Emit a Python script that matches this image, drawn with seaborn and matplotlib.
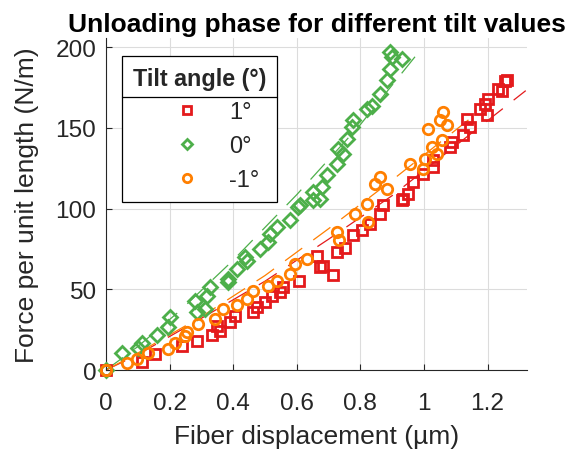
import numpy as np
import pandas as pd
import seaborn as sns
import matplotlib.pyplot as plt
from matplotlib.lines import Line2D

# measured points, unloading phase
x_pos1 = [0, 0.112, 0.154, 0.238, 0.285, 0.332, 0.348, 0.358, 0.390, 0.406, 0.463, 0.474,
          0.500, 0.521, 0.547, 0.558, 0.608, 0.663, 0.673, 0.681, 0.713, 0.725, 0.752, 0.776,
          0.804, 0.830, 0.862, 0.870, 0.930, 0.935, 0.951, 0.966, 0.998, 1.029, 1.029, 1.082,
          1.087, 1.124, 1.134, 1.145, 1.176, 1.197, 1.192, 1.202, 1.234, 1.244, 1.255, 1.260]
y_pos1 = [0, 5.1, 9.9, 15.1, 18.2, 21.7, 27.5, 24.4, 29.9, 33.3, 35.8, 38.9,
          42.0, 45.7, 48.2, 51.3, 55.4, 70.5, 63.7, 64.7, 58.9, 73.0, 75.4, 83.7,
          86.4, 90.5, 96.7, 102.3, 105.0, 106.0, 109.1, 116.4, 121.5, 125.7, 129.8, 138.1,
          141.2, 145.3, 155.6, 150.5, 161.8, 157.7, 164.9, 167.6, 174.2, 172.5, 178.7, 179.4]

x_zero = [0, 0.049, 0.102, 0.112, 0.159, 0.196, 0.201, 0.280, 0.285, 0.311, 0.317, 0.327,
          0.385, 0.385, 0.411, 0.442, 0.437, 0.484, 0.510, 0.516, 0.537, 0.579, 0.605, 0.610,
          0.652, 0.652, 0.673, 0.678, 0.694, 0.725, 0.731, 0.746, 0.757, 0.773, 0.778, 0.820,
          0.836, 0.862, 0.883, 0.893, 0.898, 0.893, 0.930]
y_zero = [0, 10.5, 13.4, 16.7, 21.7, 26.5, 32.7, 43.0, 35.8, 37.8, 46.1, 51.3,
          56.4, 54.4, 62.6, 67.8, 69.9, 75.0, 79.2, 84.3, 88.5, 92.6, 100.9, 101.9,
          105.0, 110.2, 106.0, 113.3, 120.5, 127.7, 137.0, 133.9, 143.2, 150.4, 154.6, 161.8,
          163.8, 171.1, 179.4, 186.6, 193.9, 196.9, 192.8]

x_neg1 = [0, 0.065, 0.097, 0.133, 0.196, 0.217, 0.248, 0.254, 0.290, 0.343, 0.369, 0.411,
          0.442, 0.463, 0.510, 0.537, 0.579, 0.594, 0.631, 0.725, 0.734, 0.783, 0.820, 0.825,
          0.846, 0.862, 0.883, 0.956, 1.003, 0.998, 1.024, 1.040, 1.014, 1.056, 1.050, 1.061,
          1.071]
y_neg1 = [0, 4.3, 6.8, 10.5, 13.0, 16.7, 21.3, 23.4, 28.5, 31.6, 37.8, 40.3,
          44.0, 49.2, 51.9, 55.4, 59.5, 65.7, 68.8, 85.7, 80.8, 96.7, 102.9, 91.5,
          115.3, 119.5, 112.2, 127.7, 130.8, 124.6, 138.1, 133.9, 149.4, 142.2, 154.6, 159.8,
          151.5]

# fitted curves
fit_x_pos1 = [0, 0.1, 0.3, 0.5, 0.7, 0.9, 1.1, 1.32]
fit_y_pos1 = [0, 9.5, 32, 55, 81, 108, 139, 173]
fit_x_zero = [0, 0.1, 0.233, 0.4, 0.6, 0.8, 0.98]
fit_y_zero = [0, 14.5, 36.8, 68, 108.6, 152, 196]
fit_x_neg1 = [0, 0.1, 0.3, 0.5, 0.7, 0.9, 1.16]
fit_y_neg1 = [0, 10.5, 33, 58.5, 87.5, 117.6, 158]

labels = ['1°', '0°', '-1°']
colors = ['#e41a1c', '#4daf4a', '#ff7f00']
markers = ['s', 'D', 'o']

sns.set_style('whitegrid')
plt.rcParams['font.family'] = ['Liberation Sans', 'DejaVu Sans']

fig = plt.figure(figsize=(5.69, 4.52), dpi=100)
ax = fig.add_axes([0.1863, 0.1792, 0.7399, 0.7345])

pts = [(x_pos1, y_pos1), (x_zero, y_zero), (x_neg1, y_neg1)]
fits = [(fit_x_pos1, fit_y_pos1), (fit_x_zero, fit_y_zero), (fit_x_neg1, fit_y_neg1)]
msizes = [7.0, 7.0, 7.5]

for (fx, fy), c in zip(fits, colors):
    sns.lineplot(x=fx, y=fy, ax=ax, estimator=None, sort=False, color=c,
                 linewidth=0.9, linestyle=(0, (17, 11)))

for (px, py), lab, c, m, ms in zip(pts, labels, colors, markers, msizes):
    sns.lineplot(x=px, y=py, ax=ax, estimator=None, sort=False, label=lab,
                 linestyle='', marker=m, ms=ms, mfc='none', mec=c, mew=2.0, color=c,
                 clip_on=False, zorder=3)

ax.set_xlim(0, 1.324)
ax.set_ylim(0, 205.6)
ax.set_xticks([0, 0.2, 0.4, 0.6, 0.8, 1, 1.2])
ax.set_xticklabels(['0', '0.2', '0.4', '0.6', '0.8', '1', '1.2'])
ax.set_yticks([0, 50, 100, 150, 200])

ax.grid(True, color='#dcdcdc', linewidth=0.8)
ax.set_axisbelow(True)
for s in ['top', 'right']:
    ax.spines[s].set_visible(False)
for s in ['left', 'bottom']:
    ax.spines[s].set_visible(True)
    ax.spines[s].set_color('#262626')
    ax.spines[s].set_linewidth(0.8)
ax.tick_params(direction='in', length=4, width=0.8, color='#262626',
               labelcolor='#262626', labelsize=17.6, left=True, bottom=True)
ax.tick_params(axis='x', pad=16)
ax.tick_params(axis='y', pad=7)

ax.set_title('Unloading phase for different tilt values', fontsize=19,
             fontweight='bold', pad=5, color='black')
ax.set_xlabel('Fiber displacement (µm)', fontsize=19, color='#262626', labelpad=7)
ax.set_ylabel('Force per unit length (N/m)', fontsize=19, color='#262626', labelpad=12)

leg = ax.legend(loc='upper left', bbox_to_anchor=(0.038, 0.9458), borderaxespad=0,
                title='Tilt angle (°)', fontsize=17, handlelength=4.0, handletextpad=-0.2,
                labelspacing=0.5, markerscale=0.8, fancybox=False, framealpha=1,
                edgecolor='black', borderpad=0.45)
leg.get_title().set_fontweight('bold')
leg.get_title().set_fontsize(16.8)
leg.get_frame().set_linewidth(0.9)
leg.set_zorder(5)

# separator line under the legend title
fig.canvas.draw()
lb = leg.get_window_extent()
tb = leg.get_title().get_window_extent()
ysep = tb.y0 - 7
inv = fig.transFigure.inverted()
(x0, y0) = inv.transform((lb.x0, ysep))
(x1, _) = inv.transform((lb.x1, ysep))
fig.add_artist(Line2D([x0, x1], [y0, y0], color='black', linewidth=0.9))

fig.savefig('out.png', dpi=100)
